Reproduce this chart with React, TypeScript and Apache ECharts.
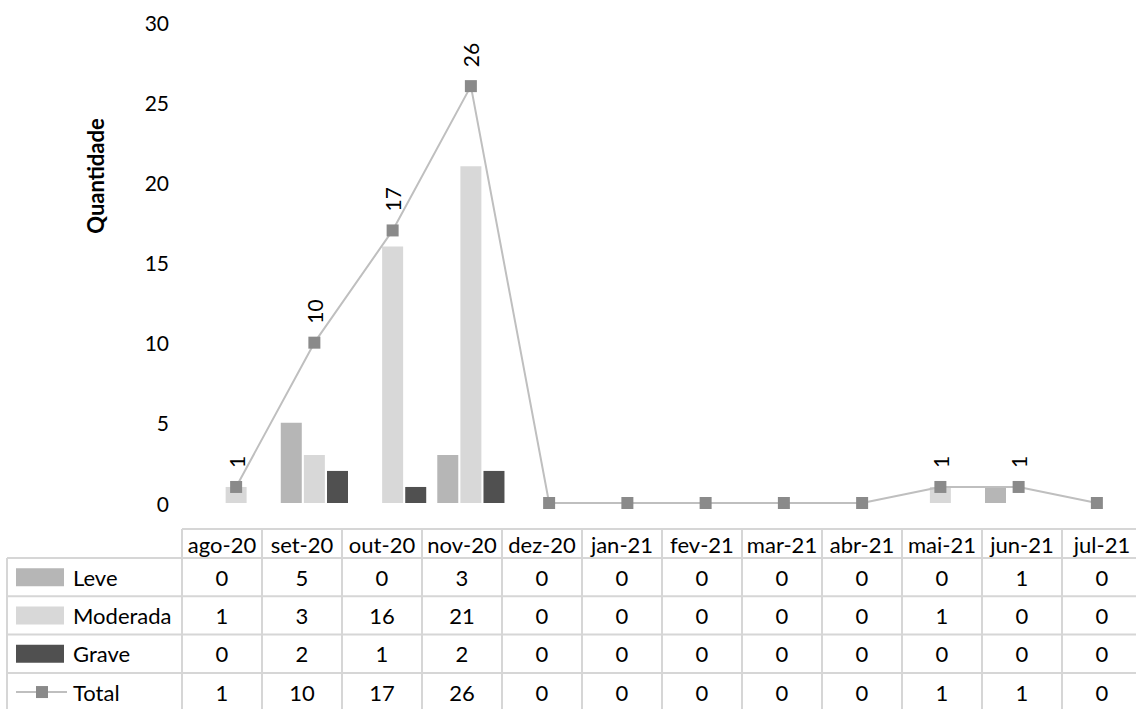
import React, { useEffect, useRef } from 'react';
import * as echarts from 'echarts';

const months = ['ago-20', 'set-20', 'out-20', 'nov-20', 'dez-20', 'jan-21', 'fev-21', 'mar-21', 'abr-21', 'mai-21', 'jun-21', 'jul-21'];
const leve = [0, 5, 0, 3, 0, 0, 0, 0, 0, 0, 1, 0];
const moderada = [1, 3, 16, 21, 0, 0, 0, 0, 0, 1, 0, 0];
const grave = [0, 2, 1, 2, 0, 0, 0, 0, 0, 0, 0, 0];
const total = [1, 10, 17, 26, 0, 0, 0, 0, 0, 1, 1, 0];
const seriesNames = ['Leve', 'Moderada', 'Grave', 'Total'];
const yAxisTitle = 'Quantidade';

const COLORS = {
  leve: '#b6b6b6',
  moderada: '#d8d8d8',
  grave: '#505050',
  line: '#bfbfbf',
  marker: '#8a8a8a',
  border: '#d6d6d6',
  text: '#000000',
};
const FONT = 'Lato, "Noto Sans", sans-serif';

// table layout
const T = {
  labelLeft: 7,
  left: 182,
  colW: 80,
  headerTop: 529,
  headerBottom: 558,
  rowH: 38.3,
  bottom: 709,
  fontSize: 22,
};

function buildTable(): any[] {
  const els: any[] = [];
  const lineStyle = { stroke: COLORS.border, lineWidth: 2 };
  const n = months.length;
  const right = T.left + n * T.colW;
  const rows = [leve, moderada, grave, total];
  els.push({ type: 'line', shape: { x1: T.left, y1: T.headerTop, x2: right, y2: T.headerTop }, style: lineStyle, silent: true });
  for (let r = 0; r < rows.length; r++) {
    const y = T.headerBottom + r * T.rowH;
    els.push({ type: 'line', shape: { x1: T.labelLeft, y1: y, x2: right, y2: y }, style: lineStyle, silent: true });
  }
  els.push({ type: 'line', shape: { x1: T.labelLeft, y1: T.headerBottom, x2: T.labelLeft, y2: T.bottom }, style: lineStyle, silent: true });
  for (let i = 0; i <= n; i++) {
    const x = T.left + i * T.colW;
    els.push({ type: 'line', shape: { x1: x, y1: T.headerTop, x2: x, y2: T.bottom }, style: lineStyle, silent: true });
  }
  const font = `${T.fontSize}px ${FONT}`;
  months.forEach((m, i) => {
    els.push({
      type: 'text', silent: true,
      style: { text: m, x: T.left + (i + 0.5) * T.colW, y: (T.headerTop + T.headerBottom) / 2 + 1, align: 'center', verticalAlign: 'middle', font, fill: COLORS.text },
    });
  });
  rows.forEach((vals, r) => {
    const cy = T.headerBottom + (r + 0.5) * T.rowH;
    vals.forEach((v, i) => {
      els.push({
        type: 'text', silent: true,
        style: { text: String(v), x: T.left + (i + 0.5) * T.colW, y: cy, align: 'center', verticalAlign: 'middle', font, fill: COLORS.text },
      });
    });
    els.push({
      type: 'text', silent: true,
      style: { text: seriesNames[r], x: 73, y: cy, align: 'left', verticalAlign: 'middle', font, fill: COLORS.text },
    });
    if (r < 3) {
      const fill = [COLORS.leve, COLORS.moderada, COLORS.grave][r];
      els.push({ type: 'rect', silent: true, shape: { x: 16, y: cy - 9, width: 48, height: 18 }, style: { fill } });
    } else {
      els.push({ type: 'line', silent: true, shape: { x1: 16, y1: cy, x2: 67, y2: cy }, style: { stroke: COLORS.line, lineWidth: 2 } });
      els.push({ type: 'rect', silent: true, shape: { x: 36, y: cy - 6, width: 12, height: 12 }, style: { fill: COLORS.marker } });
    }
  });
  els.push({
    type: 'text', silent: true, x: 95, y: 176, rotation: Math.PI / 2,
    style: { text: yAxisTitle, x: 0, y: 0, align: 'center', verticalAlign: 'middle', font: `bold 22px ${FONT}`, fill: COLORS.text },
  });
  return els;
}

export default function App() {
  const ref = useRef<HTMLDivElement>(null);
  useEffect(() => {
    if (!ref.current) return;
    const chart = echarts.init(ref.current, undefined, { renderer: 'svg' });
    const barCommon = { type: 'bar', barWidth: 21, barGap: '10%' };
    chart.setOption({
      animation: false,
      backgroundColor: '#ffffff',
      grid: { left: 197, top: 22, width: 945, height: 481, containLabel: false },
      xAxis: {
        type: 'category',
        data: months,
        boundaryGap: true,
        axisLine: { show: false },
        axisTick: { show: false },
        axisLabel: { show: false },
        splitLine: { show: false },
      },
      yAxis: {
        type: 'value',
        min: 0,
        max: 30,
        interval: 5,
        axisLine: { show: false },
        axisTick: { show: false },
        splitLine: { show: false },
        axisLabel: { color: COLORS.text, fontFamily: FONT, fontSize: 21, margin: 28 },
      },
      series: [
        { ...barCommon, name: seriesNames[0], data: leve, itemStyle: { color: COLORS.leve } },
        { ...barCommon, name: seriesNames[1], data: moderada, itemStyle: { color: COLORS.moderada } },
        { ...barCommon, name: seriesNames[2], data: grave, itemStyle: { color: COLORS.grave } },
        {
          type: 'line',
          name: seriesNames[3],
          data: total,
          z: 5,
          symbol: 'rect',
          symbolSize: 12,
          lineStyle: { color: COLORS.line, width: 2 },
          itemStyle: { color: COLORS.marker },
          label: {
            show: true,
            position: 'top',
            distance: 13,
            rotate: 90,
            align: 'left',
            verticalAlign: 'middle',
            color: COLORS.text,
            fontFamily: FONT,
            fontSize: 21,
            formatter: (p: any) => (p.value === 0 ? '' : String(p.value)),
          },
        },
      ],
      graphic: buildTable(),
    });
    return () => chart.dispose();
  }, []);
  return <div ref={ref} style={{ position: 'absolute', left: 0, top: 0, width: 1136, height: 709 }} />;
}
